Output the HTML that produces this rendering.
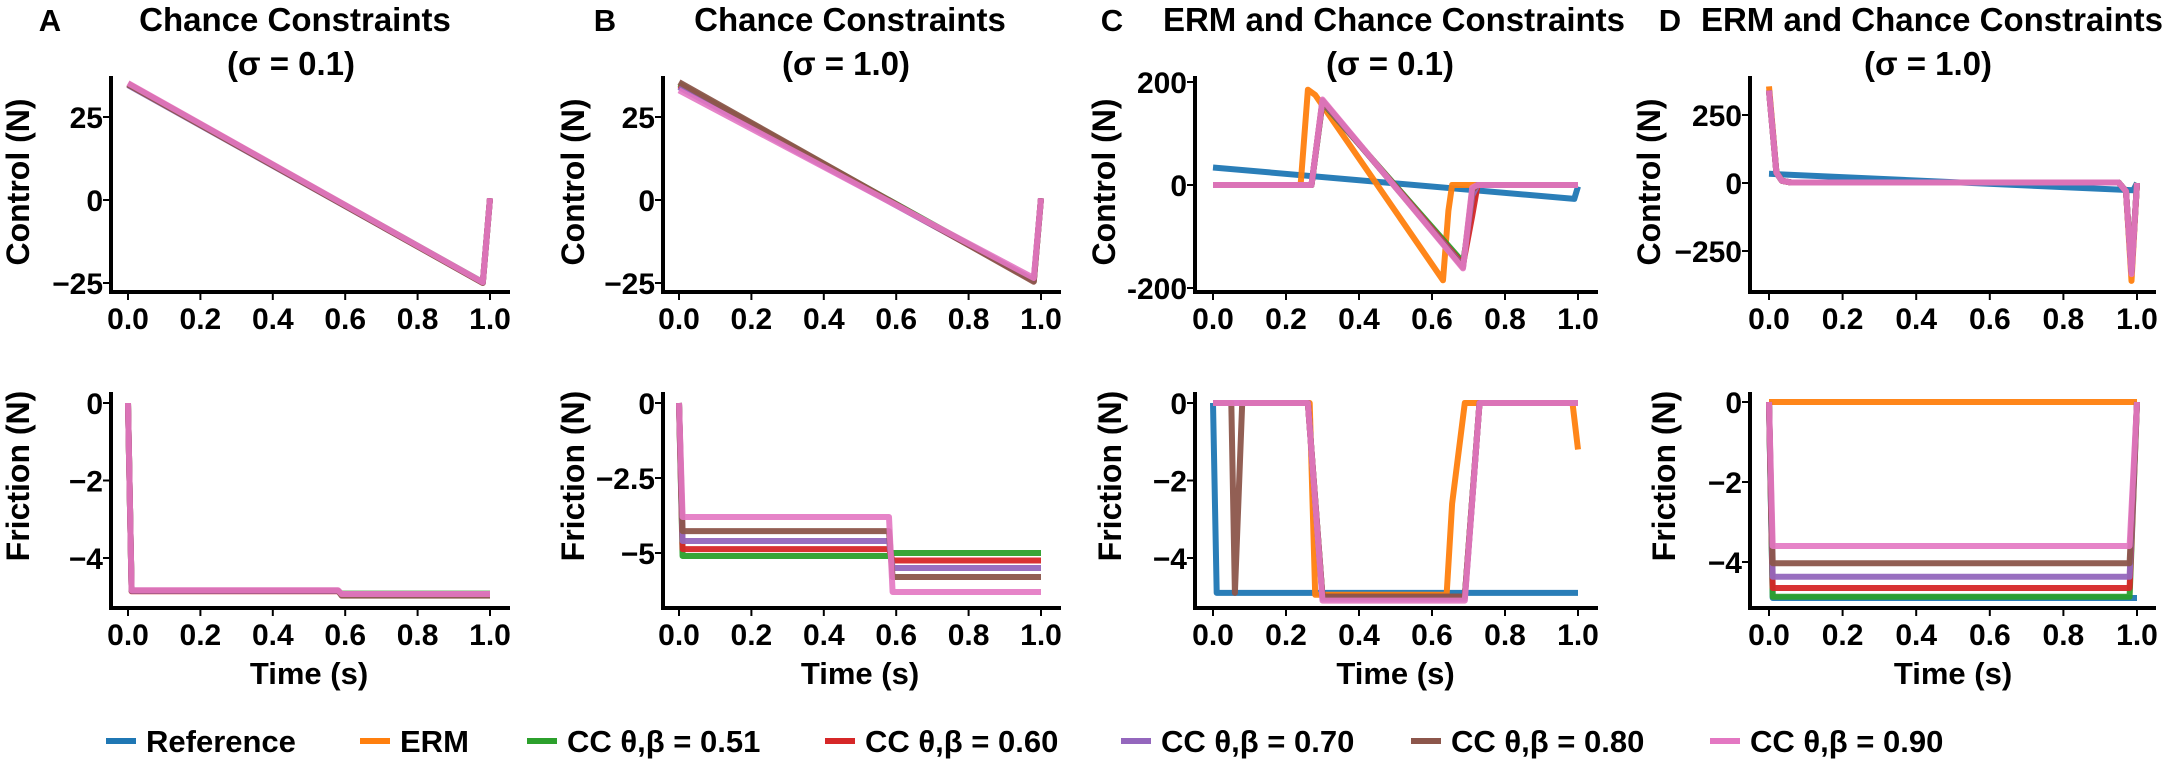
<!DOCTYPE html>
<html><head><meta charset="utf-8">
<style>
html,body{margin:0;padding:0;background:#fff;}
svg{display:block;font-family:"Liberation Sans",Arial,sans-serif;font-weight:bold;}
</style></head>
<body>
<svg id="chart" width="2167" height="770" viewBox="0 0 2167 770" xmlns="http://www.w3.org/2000/svg"></svg>
<script>
// ---------- data ----------
const seriesNames = ["Reference","ERM","CC θ,β = 0.51","CC θ,β = 0.60","CC θ,β = 0.70","CC θ,β = 0.80","CC θ,β = 0.90"];
const seriesKeys = ["ref","erm","cc51","cc60","cc70","cc80","cc90"];

// Panel A control (sigma 0.1)
const aCtrlT = [0, 0.98, 1.0];
const aCtrl_cc51 = [35, -24.8, 0.5];
const aCtrl_cc60 = [35, -24.9, 0.5];
const aCtrl_cc70 = [34.6, -24.9, 0.5];
const aCtrl_cc80 = [34.8, -25, 0.5];
const aCtrl_cc90 = [35.2, -24.8, 0.5];
// Panel A friction
const aFricT = [0, 0.01, 0.58, 0.59, 1.0];
const aFric_cc51 = [0, -4.85, -4.85, -4.92, -4.92];
const aFric_cc60 = [0, -4.86, -4.86, -4.94, -4.94];
const aFric_cc70 = [0, -4.85, -4.85, -4.95, -4.95];
const aFric_cc80 = [0, -4.84, -4.84, -4.97, -4.97];
const aFric_cc90 = [0, -4.83, -4.83, -4.93, -4.93];

// Panel B control (sigma 1.0)
const bCtrlT = [0, 0.98, 1.0];
const bCtrl_cc51 = [35, -24.2, 0.5];
const bCtrl_cc60 = [34.5, -24.3, 0.5];
const bCtrl_cc70 = [34, -24.2, 0.5];
const bCtrl_cc80 = [35.5, -24.6, 0.5];
const bCtrl_cc90 = [33, -23.5, 0.5];
// Panel B friction
const bFricT = [0, 0.01, 0.58, 0.59, 1.0];
const bFric_cc51 = [0, -5.1, -5.1, -5.0, -5.0];
const bFric_cc60 = [0, -4.87, -4.87, -5.25, -5.25];
const bFric_cc70 = [0, -4.6, -4.6, -5.5, -5.5];
const bFric_cc80 = [0, -4.27, -4.27, -5.8, -5.8];
const bFric_cc90 = [0, -3.8, -3.8, -6.3, -6.3];

// Panel C control (sigma 0.1)
const cCtrlRefT = [0, 0.99, 1.0];
const cCtrl_ref = [34, -27, -3];
const cCtrlErmT = [0, 0.24, 0.26, 0.28, 0.63, 0.645, 0.655, 1.0];
const cCtrl_erm = [0, 0, 185, 175, -185, -50, 0, 0];
const cCtrlCcT = [0, 0.27, 0.30, 0.685, 0.71, 0.725, 1.0];
const cCtrl_cc51 = [0, 0, 160, -150, -40, 0, 0];
const cCtrl_cc60 = [0, 0, 162, -155, -60, 0, 0];
const cCtrl_cc70 = [0, 0, 163, -158, -20, 0, 0];
const cCtrl_cc80 = [0, 0, 164, -160, -10, 0, 0];
const cCtrl_cc90 = [0, 0, 166, -162, -5, 0, 0];
// Panel C friction
const cFricRefT = [0, 0.01, 1.0];
const cFric_ref = [0, -4.9, -4.9];
const cFricErmT = [0, 0.265, 0.28, 0.64, 0.655, 0.69, 0.985, 1.0];
const cFric_erm = [0, 0, -4.95, -4.95, -2.6, 0, 0, -1.2];
const cFricCcT = [0, 0.26, 0.30, 0.69, 0.73, 1.0];
const cFric_cc51 = [0, 0, -5.0, -5.0, 0, 0];
const cFric_cc60 = [0, 0, -5.0, -5.0, 0, 0];
const cFric_cc70 = [0, 0, -5.05, -5.05, 0, 0];
const cFric_cc80T = [0, 0.05, 0.06, 0.08, 0.26, 0.30, 0.69, 0.73, 1.0];
const cFric_cc80 = [0, 0, -4.9, 0, 0, -5.0, -5.0, 0, 0];
const cFric_cc90 = [0, 0, -5.1, -5.1, 0, 0];

// Panel D control (sigma 1.0)
const dCtrlRefT = [0, 0.99, 1.0];
const dCtrl_ref = [34, -27, 0];
const dCtrlCcT = [0, 0.01, 0.02, 0.035, 0.06, 0.95, 0.97, 0.985, 1.0];
const dCtrl_erm = [355, 200, 40, 8, 2, 2, -30, -360, 0];
const dCtrl_cc51 = [340, 190, 38, 8, 2, 2, -30, -330, 0];
const dCtrl_cc60 = [340, 190, 38, 8, 2, 2, -30, -330, 0];
const dCtrl_cc70 = [340, 190, 38, 8, 2, 2, -30, -330, 0];
const dCtrl_cc80 = [340, 190, 38, 8, 2, 2, -30, -330, 0];
const dCtrl_cc90 = [340, 190, 38, 8, 2, 2, -30, -335, 0];
// Panel D friction
const dFricRefT = [0, 0.01, 1.0];
const dFric_ref = [0, -4.9, -4.9];
const dFricErmT = [0, 1.0];
const dFric_erm = [0, 0];
const dFricCcT = [0, 0.01, 0.98, 1.0];
const dFric_cc51 = [0, -4.87, -4.87, 0];
const dFric_cc60 = [0, -4.65, -4.65, 0];
const dFric_cc70 = [0, -4.37, -4.37, 0];
const dFric_cc80 = [0, -4.03, -4.03, 0];
const dFric_cc90 = [0, -3.6, -3.6, 0];

const xTicks = [0, 0.2, 0.4, 0.6, 0.8, 1.0];
const xTickLabels = ["0.0","0.2","0.4","0.6","0.8","1.0"];
const abCtrlTicks = [25, 0, -25];
const abCtrlTickLabels = ["25","0","−25"];
const aFricTicks = [0, -2, -4];
const aFricTickLabels = ["0","−2","−4"];
const bFricTicks = [0, -2.5, -5];
const bFricTickLabels = ["0","−2.5","−5"];
const cCtrlTicks = [200, 0, -200];
const cCtrlTickLabels = ["200","0","-200"];
const dCtrlTicks = [250, 0, -250];
const dCtrlTickLabels = ["250","0","−250"];

const colors = {ref:"#1f77b4", erm:"#ff7f0e", cc51:"#2ca02c", cc60:"#d62728", cc70:"#9467bd", cc80:"#8c564b", cc90:"#e377c2"};

// ---------- drawing ----------
const NS = "http://www.w3.org/2000/svg";
const svg = document.getElementById("chart");
function el(tag, attrs, parent){
  const e = document.createElementNS(NS, tag);
  for (const k in attrs) e.setAttribute(k, attrs[k]);
  (parent||svg).appendChild(e);
  return e;
}
function txt(s, attrs, parent){ const e = el("text", attrs, parent); e.textContent = s; return e; }

function panel(id, g, o){
  // o: xl, x0, x1, xr, yTop, yBot, y0px, pxPerUnit, ticks, labels, series, ylabel, ylabelX, ylabelY, timeLabel, tickLabelY
  const sx = t => o.x0 + (o.x1 - o.x0) * t;
  const sy = v => o.y0px - o.pxPerUnit * v;
  const grp = el("g", {}, g);
  
  
  // series
  o.series.forEach(s => {
    let d = "";
    s.t.forEach((t, i) => { d += (i ? "L" : "M") + sx(t).toFixed(1) + "," + sy(s.v[i]).toFixed(1); });
    const p = el("path", {d: d, fill: "none", stroke: colors[s.k], "stroke-width": 6, "stroke-linejoin": "round", "stroke-linecap": "butt", "stroke-opacity": s.k === "cc90" ? 0.9 : 0.95}, grp);
    
    
  });
  // spines
  const ys = el("line", {x1: o.xl, y1: o.yTop, x2: o.xl, y2: o.yBot + 2, stroke: "#000", "stroke-width": 4}, grp);
  
  
  const xs = el("line", {x1: o.xl - 2, y1: o.yBot, x2: o.xr, y2: o.yBot, stroke: "#000", "stroke-width": 4}, grp);
  
  
  // x ticks
  xTicks.forEach((t, i) => {
    el("line", {x1: sx(t), y1: o.yBot, x2: sx(t), y2: o.yBot + 8, stroke: "#000", "stroke-width": 2}, grp);
    const l = txt(xTickLabels[i], {x: sx(t), y: o.yBot + 37, "font-size": 30, "text-anchor": "middle"}, grp);
    
    
  });
  // y ticks
  o.ticks.forEach((v, i) => {
    el("line", {x1: o.xl - 8, y1: sy(v), x2: o.xl, y2: sy(v), stroke: "#000", "stroke-width": 2}, grp);
    const l = txt(o.labels[i], {x: o.xl - 8, y: sy(v) + 11, "font-size": 30, "text-anchor": "end"}, grp);
    
    
  });
  const yl = txt(o.ylabel, {x: 0, y: 0, "font-size": 32, "text-anchor": "middle", transform: "translate(" + (o.ylabelX + 11) + "," + o.ylabelY + ") rotate(-90)"}, grp);
  
  
  if (o.timeLabel){
    const xl = txt("Time (s)", {x: (o.x0 + o.x1) / 2, y: 684, "font-size": 31, "text-anchor": "middle"}, grp);
    
    
  }
}
function S(k, t, v){ return {k: k, t: t, v: v}; }

const panels = [
  {letter:"A", lx:50, title:"Chance Constraints", sub:"(σ = 0.1)", tx:295, xl:111, x0:128, x1:490, xr:510,
   top:{y0px:200, ppu:3.32, ticks:abCtrlTicks, labels:abCtrlTickLabels, ylx:18,
        series:[S("cc51",aCtrlT,aCtrl_cc51),S("cc60",aCtrlT,aCtrl_cc60),S("cc70",aCtrlT,aCtrl_cc70),S("cc80",aCtrlT,aCtrl_cc80),S("cc90",aCtrlT,aCtrl_cc90)]},
   bot:{y0px:403, ppu:38.75, ticks:aFricTicks, labels:aFricTickLabels, ylx:18,
        series:[S("cc51",aFricT,aFric_cc51),S("cc60",aFricT,aFric_cc60),S("cc70",aFricT,aFric_cc70),S("cc80",aFricT,aFric_cc80),S("cc90",aFricT,aFric_cc90)]}},
  {letter:"B", lx:605, title:"Chance Constraints", sub:"(σ = 1.0)", tx:850, xl:663, x0:679, x1:1041, xr:1061,
   top:{y0px:200, ppu:3.32, ticks:abCtrlTicks, labels:abCtrlTickLabels, ylx:573,
        series:[S("cc51",bCtrlT,bCtrl_cc51),S("cc60",bCtrlT,bCtrl_cc60),S("cc70",bCtrlT,bCtrl_cc70),S("cc80",bCtrlT,bCtrl_cc80),S("cc90",bCtrlT,bCtrl_cc90)]},
   bot:{y0px:403, ppu:30, ticks:bFricTicks, labels:bFricTickLabels, ylx:573,
        series:[S("cc51",bFricT,bFric_cc51),S("cc60",bFricT,bFric_cc60),S("cc70",bFricT,bFric_cc70),S("cc80",bFricT,bFric_cc80),S("cc90",bFricT,bFric_cc90)]}},
  {letter:"C", lx:1112, title:"ERM and Chance Constraints", sub:"(σ = 0.1)", tx:1394, xl:1195, x0:1213, x1:1578, xr:1598,
   top:{y0px:185, ppu:0.515, ticks:cCtrlTicks, labels:cCtrlTickLabels, ylx:1104,
        series:[S("ref",cCtrlRefT,cCtrl_ref),S("erm",cCtrlErmT,cCtrl_erm),S("cc51",cCtrlCcT,cCtrl_cc51),S("cc60",cCtrlCcT,cCtrl_cc60),S("cc70",cCtrlCcT,cCtrl_cc70),S("cc80",cCtrlCcT,cCtrl_cc80),S("cc90",cCtrlCcT,cCtrl_cc90)]},
   bot:{y0px:403, ppu:38.75, ticks:aFricTicks, labels:aFricTickLabels, ylx:1110,
        series:[S("ref",cFricRefT,cFric_ref),S("erm",cFricErmT,cFric_erm),S("cc51",cFricCcT,cFric_cc51),S("cc60",cFricCcT,cFric_cc60),S("cc70",cFricCcT,cFric_cc70),S("cc80",cFric_cc80T,cFric_cc80),S("cc90",cFricCcT,cFric_cc90)]}},
  {letter:"D", lx:1670, title:"ERM and Chance Constraints", sub:"(σ = 1.0)", tx:1932, xl:1750, x0:1769, x1:2137, xr:2156,
   top:{y0px:183, ppu:0.272, ticks:dCtrlTicks, labels:dCtrlTickLabels, ylx:1649,
        series:[S("ref",dCtrlRefT,dCtrl_ref),S("erm",dCtrlCcT,dCtrl_erm),S("cc51",dCtrlCcT,dCtrl_cc51),S("cc60",dCtrlCcT,dCtrl_cc60),S("cc70",dCtrlCcT,dCtrl_cc70),S("cc80",dCtrlCcT,dCtrl_cc80),S("cc90",dCtrlCcT,dCtrl_cc90)]},
   bot:{y0px:402, ppu:40, ticks:aFricTicks, labels:aFricTickLabels, ylx:1664,
        series:[S("ref",dFricRefT,dFric_ref),S("erm",dFricErmT,dFric_erm),S("cc51",dFricCcT,dFric_cc51),S("cc60",dFricCcT,dFric_cc60),S("cc70",dFricCcT,dFric_cc70),S("cc80",dFricCcT,dFric_cc80),S("cc90",dFricCcT,dFric_cc90)]}}
];

panels.forEach(P => {
  const g = el("g", {});
  
  
  const L = txt(P.letter, {x: P.lx, y: 31, "font-size": 31, "text-anchor": "middle"}, g);
  
  
  const T = txt(P.title, {x: P.tx, y: 31, "font-size": 33, "text-anchor": "middle"}, g);
  
  
  const T2 = txt(P.sub, {x: P.tx - 4, y: 75, "font-size": 33, "text-anchor": "middle"}, g);
  
  
  panel('control-plot-' + P.letter.toLowerCase(), g, {xl:P.xl, x0:P.x0, x1:P.x1, xr:P.xr, yTop:76, yBot:292, y0px:P.top.y0px, pxPerUnit:P.top.ppu,
    ticks:P.top.ticks, labels:P.top.labels, series:P.top.series, ylabel:"Control (N)", ylabelX:P.top.ylx, ylabelY:182, timeLabel:false});
  panel('friction-plot-' + P.letter.toLowerCase(), g, {xl:P.xl, x0:P.x0, x1:P.x1, xr:P.xr, yTop:392, yBot:608, y0px:P.bot.y0px, pxPerUnit:P.bot.ppu,
    ticks:P.bot.ticks, labels:P.bot.labels, series:P.bot.series, ylabel:"Friction (N)", ylabelX:P.bot.ylx, ylabelY:476, timeLabel:true});
});

// legend
const legendSwatchX = [106, 360, 527, 825, 1121, 1411, 1710];
const lg = el("g", {});


seriesKeys.forEach((k, i) => {
  const ln = el("line", {x1: legendSwatchX[i], y1: 741, x2: legendSwatchX[i] + 30, y2: 741, stroke: colors[k], "stroke-width": 6}, lg);
  
  
  const t = txt(seriesNames[i], {x: legendSwatchX[i] + 40, y: 752, "font-size": 31}, lg);
  
  
});
</script>
</body></html>
